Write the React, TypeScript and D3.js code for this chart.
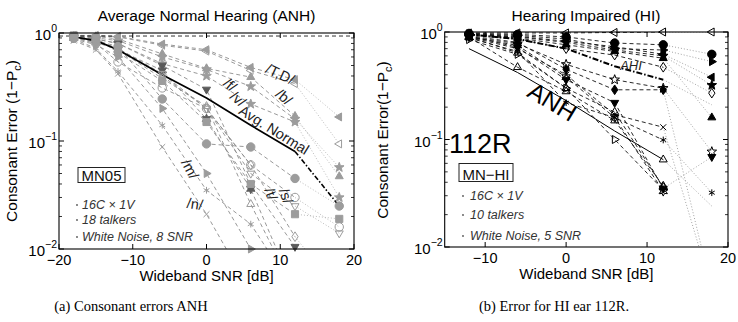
import * as d3 from "d3";

// ---------- data: average normal hearing (ANH) panel ----------
const anhSnr = [-18, -15, -12, -6, 0, 6, 12, 18];
const anhMarkers = ["<", "<", "^", "p", "p", "v", "h", "o", "o", "d", "^", ">", "x", "*", "s", "v"];
// g = gray filled, k = dark filled, n = open
const anhFills = ["g", "n", "g", "g", "g", "k", "k", "g", "n", "n", "n", "g", "n", "n", "g", "n"];
const anhErrors = [
  [0.95, 0.95, 0.93, 0.79, 0.7, 0.48, 0.37, 0.167],
  [0.95, 0.94, 0.92, 0.77, 0.68, 0.45, 0.34, 0.094],
  [0.94, 0.93, 0.88, 0.64, 0.47, 0.39, 0.17, 0.047],
  [0.93, 0.9, 0.85, 0.6, 0.46, 0.32, 0.16, 0.057],
  [0.92, 0.88, 0.8, 0.52, 0.4, 0.22, 0.15, 0.03],
  [0.93, 0.88, 0.8, 0.5, 0.3, 0.04, 0.0105],
  [0.9, 0.85, 0.7, 0.45, 0.16, 0.036, 0.004],
  [0.9, 0.85, 0.75, 0.245, 0.094, 0.088, 0.045, 0.025],
  [0.9, 0.8, 0.54, 0.31, 0.2, 0.06, 0.03, 0.016],
  [0.92, 0.85, 0.72, 0.4, 0.2, 0.06, 0.013, 0.004],
  [0.9, 0.82, 0.7, 0.38, 0.21, 0.026, 0.004],
  [0.88, 0.78, 0.6, 0.2, 0.05, 0.01, 0.004],
  [0.85, 0.7, 0.42, 0.088, 0.021, 0.004],
  [0.88, 0.72, 0.44, 0.14, 0.035, 0.017, 0.004],
  [0.95, 0.9, 0.66, 0.36, 0.15, 0.04, 0.021, 0.019],
  [0.9, 0.84, 0.72, 0.42, 0.2, 0.05, 0.025, 0.014],
];
const anhAvg = [0.92, 0.85, 0.7, 0.41, 0.25, 0.14, 0.08];
const anhAvgTail = 0.025;
const chance = 15 / 16;

// ---------- data: hearing impaired (HI) panel ----------
const hiSnr = [-12, -6, 0, 6, 12, 18];
const hiMarkers = ["<", "o", ">", "<", "p", "d", "^", "p", "d", "v", "x", "*", "^", ">", "^", "h"];
const hiFills = ["n", "g", "g", "g", "g", "n", "g", "n", "g", "g", "n", "n", "n", "n", "n", "n"];
const hiErrors = [
  [0.98, 0.98, 0.98, 0.99, 1.0, 1.0],
  [0.97, 0.95, 0.9, 0.79, 0.76, 0.62],
  [0.96, 0.93, 0.86, 0.7, 0.68, 0.53],
  [0.95, 0.91, 0.82, 0.73, 0.62, 0.38],
  [0.94, 0.9, 0.8, 0.68, 0.6, 0.32],
  [0.93, 0.86, 0.7, 0.61, 0.47, 0.27],
  [0.95, 0.88, 0.76, 0.66, 0.57, 0.16],
  [0.9, 0.78, 0.5, 0.36, 0.3, 0.077],
  [0.92, 0.8, 0.45, 0.29, 0.29, 0.004],
  [0.92, 0.72, 0.36, 0.22, 0.035, 0.069],
  [0.9, 0.7, 0.4, 0.17, 0.13, 0.004],
  [0.88, 0.66, 0.22, 0.16, 0.099, 0.032],
  [0.9, 0.64, 0.3, 0.18, 0.036],
  [0.85, 0.62, 0.3, 0.1, 0.034],
  [0.9, 0.47, 0.28, 0.15, 0.037],
  [0.9, 0.75, 0.38, 0.16, 0.033],
];
const hiAnh = [0.7, 0.42, 0.23, 0.12, 0.065];
const hiAnhTail = 0.024;
const hiAvg = [0.95, 0.86, 0.7, 0.48, 0.36];
const hiAvgTail = 0.21;

const sans = "'Liberation Sans', Arial, Helvetica, sans-serif";
const serif = "'Liberation Serif', 'Times New Roman', serif";

const poly = (pts) => "M" + pts.map((p) => p[0].toFixed(2) + "," + p[1].toFixed(2)).join("L") + "Z";

function star(n, ro, ri) {
  const pts = [];
  for (let i = 0; i < 2 * n; i++) {
    const a = -Math.PI / 2 + (i * Math.PI) / n;
    const r = i % 2 ? ri : ro;
    pts.push([r * Math.cos(a), r * Math.sin(a)]);
  }
  return poly(pts);
}

function markerPath(m, r) {
  const tri = (a0) =>
    poly([0, 1, 2].map((i) => {
      const a = a0 + (i * 2 * Math.PI) / 3;
      return [r * 1.1 * Math.cos(a), r * 1.1 * Math.sin(a)];
    }));
  switch (m) {
    case "o":
      return `M${r},0A${r},${r} 0 1,1 ${-r},0A${r},${r} 0 1,1 ${r},0Z`;
    case "s":
      return poly([[-r * 0.85, -r * 0.85], [r * 0.85, -r * 0.85], [r * 0.85, r * 0.85], [-r * 0.85, r * 0.85]]);
    case "d":
      return poly([[0, -r * 1.15], [r * 0.75, 0], [0, r * 1.15], [-r * 0.75, 0]]);
    case "^":
      return tri(-Math.PI / 2);
    case "v":
      return tri(Math.PI / 2);
    case "<":
      return tri(Math.PI);
    case ">":
      return tri(0);
    case "p":
      return star(5, r * 1.2, r * 0.5);
    case "h":
      return star(6, r * 1.15, r * 0.6);
    case "x": {
      const a = r * 0.7;
      return `M${-a},${-a}L${a},${a}M${-a},${a}L${a},${-a}`;
    }
    default: {
      const a = r * 0.8;
      const b = a * 0.87;
      const c = a * 0.5;
      return `M0,${-a}L0,${a}M${-b},${-c}L${b},${c}M${-b},${c}L${b},${-c}`;
    }
  }
}

function Marker({ m, cx, cy, fill, stroke, r = 4.2 }) {
  const strokeOnly = m === "x" || m === "*";
  return (
    <path
      d={markerPath(m, r)}
      transform={`translate(${cx},${cy})`}
      fill={strokeOnly ? "none" : fill}
      stroke={stroke}
      strokeWidth={1}
    />
  );
}

const fmtX = (d) => (d < 0 ? "\u2212" + Math.abs(d) : String(d));

function Panel({ id, left, right, top, bottom, xDomain, xTicks, snr, errors, markers, fills, dark, overlay }) {
  const x = d3.scaleLinear().domain(xDomain).range([left, right]);
  const y = d3.scaleLog().domain([0.01, 1]).range([bottom, top]);
  const cut = snr.indexOf(12);

  const lineColor = dark ? "#111" : "#8d8d8d";
  const tailColor = dark ? "#9a9a9a" : "#b4b4b4";
  const fillOf = (f) => (f === "n" ? "none" : f === "k" ? (dark ? "#000" : "#5a5a5a") : dark ? "#000" : "#9c9c9c");
  const strokeOf = (f) => (f === "k" ? (dark ? "#000" : "#5a5a5a") : dark ? "#000" : "#9c9c9c");

  const line = d3
    .line()
    .x((d) => x(d[0]))
    .y((d) => y(d[1]));

  const minor = [];
  [0.01, 0.1].forEach((dec) => {
    for (let k = 2; k <= 9; k++) minor.push(dec * k);
  });

  return (
    <g>
      <defs>
        <clipPath id={id}>
          <rect x={left} y={top} width={right - left} height={bottom - top} />
        </clipPath>
      </defs>
      <g clipPath={`url(#${id})`}>
        {errors.map((err, i) => {
          const pts = err.map((v, j) => [snr[j], v]);
          const main = pts.slice(0, Math.min(pts.length, cut + 1));
          const tail = pts.length > cut + 1 ? pts.slice(cut, cut + 2) : null;
          return (
            <g key={i}>
              <path d={line(main)} fill="none" stroke={lineColor} strokeWidth={0.9} strokeDasharray="4,3" />
              {tail && <path d={line(tail)} fill="none" stroke={tailColor} strokeWidth={0.9} strokeDasharray="1,2" />}
            </g>
          );
        })}
        {overlay.lines(x, y)}
      </g>
      {errors.map((err, i) =>
        err.map((v, j) =>
          v >= 0.0095 ? (
            <Marker
              key={i + "-" + j}
              m={markers[i]}
              cx={x(snr[j])}
              cy={y(v)}
              fill={fillOf(fills[i])}
              stroke={strokeOf(fills[i])}
            />
          ) : null
        )
      )}
      <rect x={left} y={top} width={right - left} height={bottom - top} fill="none" stroke="#000" strokeWidth={1.1} />
      {xTicks.map((t) => (
        <g key={"xt" + t}>
          <line x1={x(t)} x2={x(t)} y1={bottom} y2={bottom - 5} stroke="#000" />
          <line x1={x(t)} x2={x(t)} y1={top} y2={top + 5} stroke="#000" />
          <text x={x(t)} y={bottom + 16} textAnchor="middle" fontSize={14.5} fontFamily={sans}>
            {fmtX(t)}
          </text>
        </g>
      ))}
      {[1, 0.1, 0.01].map((t, i) => (
        <g key={"yt" + t}>
          <line x1={left} x2={left + 5} y1={y(t)} y2={y(t)} stroke="#000" />
          <line x1={right} x2={right - 5} y1={y(t)} y2={y(t)} stroke="#000" />
          <text x={left - 2} y={y(t) + 7} textAnchor="end" fontSize={15} fontFamily={sans}>
            10
            <tspan dy={-8} fontSize={10.5}>
              {i === 0 ? "0" : "\u2212" + i}
            </tspan>
          </text>
        </g>
      ))}
      {minor.map((t) => (
        <g key={"ym" + t}>
          <line x1={left} x2={left + 3} y1={y(t)} y2={y(t)} stroke="#000" strokeWidth={0.8} />
          <line x1={right} x2={right - 3} y1={y(t)} y2={y(t)} stroke="#000" strokeWidth={0.8} />
        </g>
      ))}
      <text x={(left + right) / 2} y={bottom + 32} textAnchor="middle" fontSize={15} fontFamily={sans}>
        Wideband SNR [dB]
      </text>
      {overlay.labels(x, y)}
    </g>
  );
}

function Legend({ box, label, items, dotX, textX, baselines, color }) {
  return (
    <g fontFamily={sans} fill={color} textAnchor="start">
      <rect x={box[0]} y={box[1]} width={box[2]} height={box[3]} fill="white" stroke="#222" strokeWidth={1} />
      <text x={box[0] + box[2] / 2} y={box[1] + box[3] - 2} textAnchor="middle" fontSize={15} fill="#111">
        {label}
      </text>
      {items.map((t, i) => (
        <g key={t}>
          <circle cx={dotX} cy={baselines[i] - 4} r={0.9} fill="#555" />
          <text x={textX} y={baselines[i]} fontSize={12.5} fontStyle="italic">
            {t}
          </text>
        </g>
      ))}
    </g>
  );
}

const anhOverlay = {
  lines: (x, y) => {
    const line = d3
      .line()
      .x((d) => x(d[0]))
      .y((d) => y(d[1]));
    const avg = anhAvg.map((v, i) => [anhSnr[i], v]);
    const last = avg[avg.length - 1];
    return (
      <g>
        <line x1={x(-20)} x2={x(20)} y1={y(chance)} y2={y(chance)} stroke="#000" strokeWidth={0.8} strokeDasharray="4,3" />
        <path d={line(avg)} fill="none" stroke="#000" strokeWidth={1.7} />
        <path
          d={line([last, [18, anhAvgTail]])}
          fill="none"
          stroke="#000"
          strokeWidth={1.6}
          strokeDasharray="5,2,1.5,2"
        />
      </g>
    );
  },
  labels: () => {
    const lab = [
      ["/T,D/", 280, 74, 25],
      ["/f/", 230, 85, 40],
      ["/v/", 238, 99, 40],
      ["/b/", 284, 97, 40],
      ["Avg. Normal", 274, 130, 32],
      ["/m/", 190, 169, 62],
      ["/n/", 195, 204, 8],
      ["/t/", 271, 194, 70],
      ["/s/", 286, 196, 70],
    ];
    return (
      <g fontFamily={sans}>
        {lab.map(([t, cx, cy, a]) => (
          <text
            key={t}
            transform={`translate(${cx},${cy}) rotate(${a})`}
            dy={5}
            fontSize={14.5}
            fill="#222"
            textAnchor="middle"
          >
            {t}
          </text>
        ))}
        <Legend
          box={[78, 167.5, 47, 15]}
          label="MN05"
          items={["16C \u00d7 1V", "18 talkers", "White Noise, 8 SNR"]}
          dotX={77}
          textX={82}
          baselines={[209, 224, 241]}
          color="#333"
        />
      </g>
    );
  },
};

const hiOverlay = {
  lines: (x, y) => {
    const line = d3
      .line()
      .x((d) => x(d[0]))
      .y((d) => y(d[1]));
    const anh = hiAnh.map((v, i) => [hiSnr[i], v]);
    const avg = hiAvg.map((v, i) => [hiSnr[i], v]);
    const aLast = anh[anh.length - 1];
    const vLast = avg[avg.length - 1];
    return (
      <g>
        <path d={line(anh)} fill="none" stroke="#000" strokeWidth={1} />
        <path d={line([aLast, [18, hiAnhTail]])} fill="none" stroke="#9a9a9a" strokeWidth={0.9} strokeDasharray="1,2" />
        <path d={line(avg)} fill="none" stroke="#000" strokeWidth={2} strokeDasharray="6,2,1.5,2" />
        <path d={line([vLast, [18, hiAvgTail]])} fill="none" stroke="#9a9a9a" strokeWidth={0.9} strokeDasharray="1,2" />
      </g>
    );
  },
  labels: (x, y) => (
    <g fontFamily={sans}>
      <Marker m="^" cx={x(12)} cy={y(hiAnh[hiAnh.length - 1])} fill="none" stroke="#000" />
      <text transform="translate(548,109) rotate(31)" textAnchor="middle" fontSize={24.5}>
        ANH
      </text>
      <text x={631} y={70} textAnchor="middle" fontSize={13} fontStyle="italic" fill="#222">
        AHI
      </text>
      <text x={449} y={153} fontSize={27}>
        112R
      </text>
      <Legend
        box={[459, 163.5, 54, 18]}
        label={"MN\u2212HI"}
        items={["16C \u00d7 1V", "10 talkers", "White Noise, 5 SNR"]}
        dotX={463}
        textX={470}
        baselines={[200, 219, 240]}
        color="#333"
      />
    </g>
  ),
};

function YLabel({ x, cy, space }) {
  return (
    <text transform={`translate(${x},${cy}) rotate(-90)`} textAnchor="middle" fontSize={15.5} fontFamily={sans}>
      {`Consonant Error${space ? " " : ""}(1\u2212P`}
      <tspan dy={4} fontSize={11}>
        c
      </tspan>
      <tspan dy={-4}>)</tspan>
    </text>
  );
}

export default function App() {
  return (
    <svg width={738} height={322} viewBox="0 0 738 322" style={{ position: "absolute", left: 0, top: 0, background: "#fff" }}>
      <rect width={738} height={322} fill="#fff" />
      <text x={206.5} y={21} textAnchor="middle" fontSize={15.5} fontFamily={sans}>
        Average Normal Hearing (ANH)
      </text>
      <text x={586} y={21} textAnchor="middle" fontSize={15.5} fontFamily={sans}>
        Hearing Impaired (HI)
      </text>
      <YLabel x={17} cy={141} space={true} />
      <YLabel x={388} cy={140} space={false} />
      <Panel
        id="clipL"
        left={59}
        right={354}
        top={33}
        bottom={249}
        xDomain={[-20, 20]}
        xTicks={[-20, -10, 0, 10, 20]}
        snr={anhSnr}
        errors={anhErrors}
        markers={anhMarkers}
        fills={anhFills}
        dark={false}
        overlay={anhOverlay}
      />
      <Panel
        id="clipR"
        left={444.7}
        right={728}
        top={32}
        bottom={247}
        xDomain={[-15, 20]}
        xTicks={[-10, 0, 10, 20]}
        snr={hiSnr}
        errors={hiErrors}
        markers={hiMarkers}
        fills={hiFills}
        dark={true}
        overlay={hiOverlay}
      />
      <text x={131} y={311} textAnchor="middle" fontSize={14.5} fontFamily={serif}>
        (a) Consonant errors ANH
      </text>
      <text x={554} y={311} textAnchor="middle" fontSize={14.5} fontFamily={serif}>
        (b) Error for HI ear 112R.
      </text>
    </svg>
  );
}
